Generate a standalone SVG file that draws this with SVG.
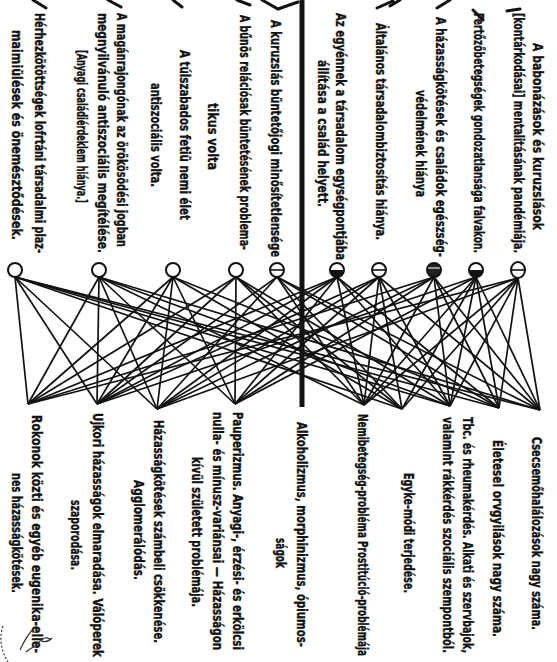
<svg xmlns="http://www.w3.org/2000/svg" width="557" height="662" viewBox="0 0 557 662">
<style>
.t{font-family:"DejaVu Sans Condensed","Liberation Sans Narrow","Liberation Sans",sans-serif;font-weight:bold;font-size:13.5px;fill:#111;stroke:#111;stroke-width:0.35}
.c{fill:#fff;stroke:#111;stroke-width:2}
.h{stroke:#111;stroke-width:1.6}
.f{fill:#111}
#edges line{stroke:#111;stroke-width:1.7}
.frag{stroke:#111;stroke-width:3;fill:none;stroke-linecap:round}
</style>
<rect width="557" height="662" fill="#fff"/>
<g id="fragments">
<path class="frag" d="M33 0L46 8M108 0L121 7M173 0L182 7M237 0L250 5M262 0L278 9L298 2M377 8L393 1M390 6L400 0M437 8L450 0M473 10L483 20M507 11L520 9"/>
</g>
<line x1="302" y1="0" x2="302" y2="407" stroke="#111" stroke-width="5"/>
<g id="edges">
<line x1="15" y1="277" x2="28" y2="404"/><line x1="15" y1="277" x2="97" y2="404"/><line x1="15" y1="277" x2="157" y2="409"/><line x1="15" y1="277" x2="402" y2="409"/><line x1="15" y1="277" x2="450" y2="406"/><line x1="15" y1="277" x2="499" y2="408"/><line x1="15" y1="277" x2="540" y2="410"/>
<line x1="99" y1="277" x2="28" y2="404"/><line x1="99" y1="277" x2="97" y2="404"/><line x1="99" y1="277" x2="157" y2="409"/><line x1="99" y1="277" x2="235" y2="404"/><line x1="99" y1="277" x2="364" y2="405"/><line x1="99" y1="277" x2="450" y2="406"/><line x1="99" y1="277" x2="540" y2="410"/>
<line x1="173" y1="277" x2="28" y2="404"/><line x1="173" y1="277" x2="97" y2="404"/><line x1="173" y1="277" x2="157" y2="409"/><line x1="173" y1="277" x2="235" y2="404"/><line x1="173" y1="277" x2="402" y2="409"/><line x1="173" y1="277" x2="499" y2="408"/>
<line x1="236" y1="277" x2="28" y2="404"/><line x1="236" y1="277" x2="97" y2="404"/><line x1="236" y1="277" x2="235" y2="404"/><line x1="236" y1="277" x2="364" y2="405"/><line x1="236" y1="277" x2="402" y2="409"/><line x1="236" y1="277" x2="450" y2="406"/>
<line x1="277" y1="277" x2="97" y2="404"/><line x1="277" y1="277" x2="157" y2="409"/><line x1="277" y1="277" x2="364" y2="405"/><line x1="277" y1="277" x2="402" y2="409"/><line x1="277" y1="277" x2="499" y2="408"/><line x1="277" y1="277" x2="540" y2="410"/>
<line x1="337" y1="277" x2="28" y2="404"/><line x1="337" y1="277" x2="97" y2="404"/><line x1="337" y1="277" x2="157" y2="409"/><line x1="337" y1="277" x2="235" y2="404"/><line x1="337" y1="277" x2="364" y2="405"/><line x1="337" y1="277" x2="450" y2="406"/><line x1="337" y1="277" x2="499" y2="408"/>
<line x1="379" y1="277" x2="97" y2="404"/><line x1="379" y1="277" x2="157" y2="409"/><line x1="379" y1="277" x2="235" y2="404"/><line x1="379" y1="277" x2="364" y2="405"/><line x1="379" y1="277" x2="402" y2="409"/><line x1="379" y1="277" x2="450" y2="406"/><line x1="379" y1="277" x2="540" y2="410"/>
<line x1="434" y1="277" x2="28" y2="404"/><line x1="434" y1="277" x2="157" y2="409"/><line x1="434" y1="277" x2="235" y2="404"/><line x1="434" y1="277" x2="364" y2="405"/><line x1="434" y1="277" x2="450" y2="406"/><line x1="434" y1="277" x2="499" y2="408"/><line x1="434" y1="277" x2="540" y2="410"/>
<line x1="476" y1="277" x2="97" y2="404"/><line x1="476" y1="277" x2="235" y2="404"/><line x1="476" y1="277" x2="364" y2="405"/><line x1="476" y1="277" x2="402" y2="409"/><line x1="476" y1="277" x2="450" y2="406"/><line x1="476" y1="277" x2="499" y2="408"/><line x1="476" y1="277" x2="540" y2="410"/>
<line x1="518" y1="278" x2="28" y2="404"/><line x1="518" y1="278" x2="157" y2="409"/><line x1="518" y1="278" x2="364" y2="405"/><line x1="518" y1="278" x2="402" y2="409"/><line x1="518" y1="278" x2="450" y2="406"/><line x1="518" y1="278" x2="499" y2="408"/><line x1="518" y1="278" x2="540" y2="410"/>
</g>
<g id="top1">
<text class="t" transform="translate(34.5,13) rotate(90) scale(0.8,1)" textLength="300" lengthAdjust="spacingAndGlyphs">Hérhezkötöttségek lofrtáni társadalmi plaz-</text>
<text class="t" transform="translate(11.5,30) rotate(90) scale(0.8,1)" textLength="262.5" lengthAdjust="spacingAndGlyphs">maimiülések és önemésztődések.</text>
<ellipse class="c" cx="15" cy="270" rx="7" ry="7"/>
</g>
<g id="top2">
<text class="t" transform="translate(116.5,13) rotate(90) scale(0.8,1)" textLength="292.5" lengthAdjust="spacingAndGlyphs">A magánrajongónak az örökösödési jogban</text>
<text class="t" transform="translate(97.5,13) rotate(90) scale(0.8,1)" textLength="300" lengthAdjust="spacingAndGlyphs">megnyilvánuló antiszociális megítélése.</text>
<text class="t" transform="translate(76.5,50) rotate(90) scale(0.8,1)" textLength="191.25" lengthAdjust="spacingAndGlyphs">[Anyagi családiérdeklem hiánya.]</text>
<ellipse class="c" cx="99" cy="270" rx="7" ry="7"/>
</g>
<g id="top3">
<text class="t" transform="translate(179.5,50) rotate(90) scale(0.8,1)" textLength="212.5" lengthAdjust="spacingAndGlyphs">A túlszabados fetiü nemi élet</text>
<text class="t" transform="translate(150.5,83) rotate(90) scale(0.8,1)" textLength="130" lengthAdjust="spacingAndGlyphs">antiszociális volta.</text>
<ellipse class="c" cx="173" cy="270" rx="7" ry="7"/>
</g>
<g id="top4">
<text class="t" transform="translate(239.5,15) rotate(90) scale(0.8,1)" textLength="293.75" lengthAdjust="spacingAndGlyphs">A bűnös relációsak büntetésének problema-</text>
<text class="t" transform="translate(207.5,103) rotate(90) scale(0.8,1)" textLength="83.75" lengthAdjust="spacingAndGlyphs">tikus volta</text>
<ellipse class="c" cx="236" cy="270" rx="7" ry="7"/>
</g>
<g id="top5">
<text class="t" transform="translate(270.5,20) rotate(90) scale(0.8,1)" textLength="296.25" lengthAdjust="spacingAndGlyphs">A kuruzslás büntetőjogi minősítetlensége</text>
<ellipse class="c" cx="277" cy="270" rx="7" ry="7"/>
<line class="h" x1="270" y1="270" x2="284" y2="270"/>
</g>
<g id="top6">
<text class="t" transform="translate(335.5,13) rotate(90) scale(0.8,1)" textLength="308.75" lengthAdjust="spacingAndGlyphs">Az egyénnek a társadalom egységpontjába</text>
<text class="t" transform="translate(317.5,60) rotate(90) scale(0.8,1)" textLength="183.75" lengthAdjust="spacingAndGlyphs">állítása a család helyett.</text>
<ellipse class="c" cx="337" cy="270" rx="7" ry="7"/>
<path class="f" d="M330 270A7 7 0 0 0 344 270Z"/>
</g>
<g id="top7">
<text class="t" transform="translate(375.5,23) rotate(90) scale(0.8,1)" textLength="271.25" lengthAdjust="spacingAndGlyphs">Általános társadalombiztosítás hiánya.</text>
<ellipse class="c" cx="379" cy="270" rx="7" ry="7"/>
<line class="h" x1="372" y1="270" x2="386" y2="270"/>
</g>
<g id="top8">
<text class="t" transform="translate(435.5,17) rotate(90) scale(0.8,1)" textLength="300" lengthAdjust="spacingAndGlyphs">A házasságkötések és családok egészség-</text>
<text class="t" transform="translate(415.5,90) rotate(90) scale(0.8,1)" textLength="133.75" lengthAdjust="spacingAndGlyphs">védelmének hiánya</text>
<ellipse class="c" cx="434" cy="270" rx="7" ry="7" style="fill:#222"/>
<line x1="428" y1="268" x2="440" y2="268" stroke="#fff" stroke-width="1"/>
</g>
<g id="top9">
<text class="t" transform="translate(473.5,13) rotate(90) scale(0.8,1)" textLength="300" lengthAdjust="spacingAndGlyphs">Fertőzőbetegségek gondozatlansága falvakon.</text>
<ellipse class="c" cx="476" cy="270" rx="7" ry="7"/>
<path class="f" d="M469 270A7 7 0 0 0 483 270Z"/>
</g>
<g id="top10">
<text class="t" transform="translate(532.5,43) rotate(90) scale(0.8,1)" textLength="233.75" lengthAdjust="spacingAndGlyphs">A babonázások és kuruzslások</text>
<text class="t" transform="translate(513.5,13) rotate(90) scale(0.8,1)" textLength="300" lengthAdjust="spacingAndGlyphs">[kontárkodásai] mentalitásának pandémiája.</text>
<ellipse class="c" cx="518" cy="270" rx="7" ry="8"/>
<line class="h" x1="511" y1="270" x2="525" y2="270"/>
</g>
<g id="bottom1">
<text class="t" transform="translate(31.5,415) rotate(90) scale(0.8,1)" textLength="297.5" lengthAdjust="spacingAndGlyphs">Rokonok közti és egyéb eugenika-elle-</text>
<text class="t" transform="translate(11.5,473) rotate(90) scale(0.8,1)" textLength="150" lengthAdjust="spacingAndGlyphs">nes házasságkötések.</text>
</g>
<g id="bottom2">
<text class="t" transform="translate(92.5,413) rotate(90) scale(0.8,1)" textLength="305" lengthAdjust="spacingAndGlyphs">Ujkori házasságok elmaradása. Válóperek</text>
<text class="t" transform="translate(70.5,500) rotate(90) scale(0.8,1)" textLength="87.5" lengthAdjust="spacingAndGlyphs">szaporodása.</text>
</g>
<g id="bottom3">
<text class="t" transform="translate(153.5,420) rotate(90) scale(0.8,1)" textLength="278.75" lengthAdjust="spacingAndGlyphs">Házasságkötések számbeli csökkenése.</text>
<text class="t" transform="translate(133.5,480) rotate(90) scale(0.8,1)" textLength="125" lengthAdjust="spacingAndGlyphs">Agglomerálódás.</text>
</g>
<g id="bottom4">
<text class="t" transform="translate(232.5,412) rotate(90) scale(0.8,1)" textLength="297.5" lengthAdjust="spacingAndGlyphs">Pauperizmus. Anyagi-, érzési- és erkölcsi</text>
<text class="t" transform="translate(212.5,412) rotate(90) scale(0.8,1)" textLength="297.5" lengthAdjust="spacingAndGlyphs">nulla- és mínusz-variánsai — Házasságon</text>
<text class="t" transform="translate(191.5,457) rotate(90) scale(0.8,1)" textLength="187.5" lengthAdjust="spacingAndGlyphs">kívül született problémája.</text>
</g>
<g id="bottomA">
<text class="t" transform="translate(296.5,422) rotate(90) scale(0.8,1)" textLength="281.25" lengthAdjust="spacingAndGlyphs">Alkoholizmus, morphinizmus, ópiumos-</text>
<text class="t" transform="translate(275.5,538) rotate(90) scale(0.8,1)" textLength="37.5" lengthAdjust="spacingAndGlyphs">ságok</text>
</g>
<g id="bottom5">
<text class="t" transform="translate(357.5,414) rotate(90) scale(0.7,1)" textLength="345.7" lengthAdjust="spacingAndGlyphs">Nemibetegség-probléma Prostitúció-problémája</text>
</g>
<g id="bottom6">
<text class="t" transform="translate(403.5,473) rotate(90) scale(0.8,1)" textLength="150" lengthAdjust="spacingAndGlyphs">Egyke-módi terjedése.</text>
</g>
<g id="bottom7">
<text class="t" transform="translate(462.5,417) rotate(90) scale(0.8,1)" textLength="295" lengthAdjust="spacingAndGlyphs">Tbc. és rheumakérdés. Alkati és szervbajok,</text>
<text class="t" transform="translate(442.5,417) rotate(90) scale(0.8,1)" textLength="295" lengthAdjust="spacingAndGlyphs">valamint rákkérdés szociális szempontból.</text>
</g>
<g id="bottom8">
<text class="t" transform="translate(492.5,440) rotate(90) scale(0.8,1)" textLength="246.25" lengthAdjust="spacingAndGlyphs">Életesel orvgyilások nagy száma.</text>
</g>
<g id="bottom9">
<text class="t" transform="translate(531.5,437) rotate(90) scale(0.8,1)" textLength="241.25" lengthAdjust="spacingAndGlyphs">Csecsemőhalálozások nagy száma.</text>
</g>
<g id="signature" fill="none" stroke="#333" stroke-width="1.2">
<path d="M20 650c4-9 9-17 15-23M26 652c5-5 9-4 13-10c3-4 8-6 12-2M40 640c4 3 8 2 12-2"/>
<path d="M3 626q-6 18 5 36" stroke-dasharray="2 2"/>
</g>
</svg>
